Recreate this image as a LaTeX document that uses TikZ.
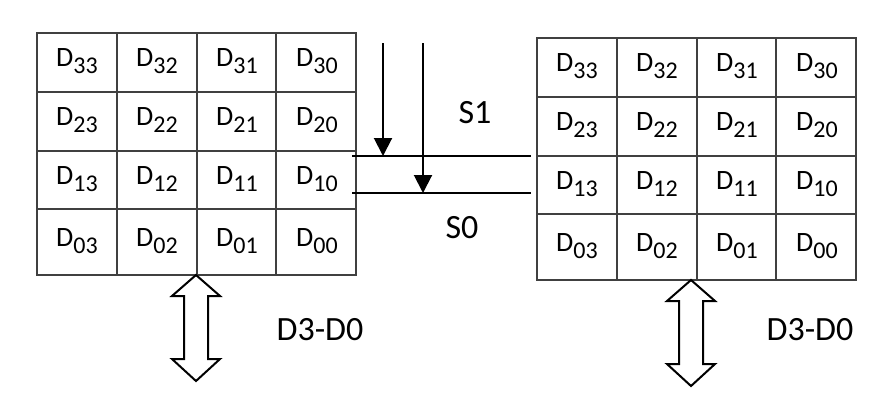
\documentclass[tikz,border=0pt]{standalone}
\usepackage{fontspec}
\setmainfont{Carlito}
\usetikzlibrary{arrows.meta}
\newcommand\Dsub[1]{D\raisebox{-7pt}{\fontsize{24}{24}\selectfont #1}}
\begin{document}
\begin{tikzpicture}[x=1pt,y=-1pt,
  gridline/.style={draw=black!75,line width=1.6pt},
  cell/.style={font=\fontsize{28}{28}\selectfont,anchor=base,inner sep=0pt},
  big/.style={font=\fontsize{34}{34}\selectfont,inner sep=0pt},
  sig/.style={line width=2pt,-{Triangle[length=18pt,width=18pt]}},
  selline/.style={line width=2pt},
  dbl/.style={draw=black,fill=white,line width=2pt,line join=miter}]
\useasboundingbox (0,0) rectangle (888,416);
% grids
\foreach \g/\gx/\gy in {L/37/33, R/537/38} {
  \draw[gridline] (\gx,\gy) rectangle ++(319,242);
  \foreach \o in {59,118,176} \draw[gridline] (\gx,\gy+\o) -- ++(319,0);
  \foreach \o in {80,160,239} \draw[gridline] (\gx+\o,\gy) -- ++(0,242);
  \foreach \r/\ro/\b in {3/0/33, 2/59/33, 1/118/33, 0/176/37}
    \foreach \c/\cx in {3/40,2/120,1/200,0/280}
      \node[cell] (\g-\r\c) at (\gx+\cx,\gy+\ro+\b) {\Dsub{\r\c}};
}
% select arrows
\coordinate (a1s) at (383,43);
\coordinate (a1e) at (383,156);
\coordinate (a0s) at (423,43);
\coordinate (a0e) at (423,193);
\draw[sig] (a1s) -- (a1e);
\draw[sig] (a0s) -- (a0e);
\coordinate (s1l) at (352,156);
\coordinate (s1r) at (531,156);
\coordinate (s0l) at (352,193);
\coordinate (s0r) at (531,193);
\draw[selline] (s1l) -- (s1r);
\draw[selline] (s0l) -- (s0r);
\node[big] (S1) at (475,113) {S1};
\node[big] (S0) at (462,228) {S0};
% data bus arrows
\foreach \ax/\at/\ab in {196/275/381, 691/280/386} {
  \draw[dbl] (\ax,\at) -- (\ax+24,\at+21) -- (\ax+12,\at+21) -- (\ax+12,\ab-22)
    -- (\ax+24,\ab-22) -- (\ax,\ab) -- (\ax-24,\ab-22) -- (\ax-12,\ab-22)
    -- (\ax-12,\at+21) -- (\ax-24,\at+21) -- cycle;
}
\node[big] (busL) at (320,330) {D3-D0};
\node[big] (busR) at (810,330) {D3-D0};
\end{tikzpicture}
\end{document}
